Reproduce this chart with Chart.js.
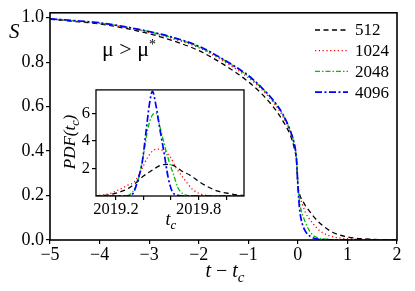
<!DOCTYPE html>
<html>
<head>
<meta charset="utf-8">
<script src="https://cdn.jsdelivr.net/npm/chart.js@4"></script>
<style>
body { margin: 0; background: #fff; font-family: "Liberation Serif", serif; }
#wrap { position: relative; width: 415px; height: 291px; }
#main { position: absolute; left: 0; top: 0; }
#inset { position: absolute; left: 55px; top: 78px; }
</style>
</head>
<body>
<div id="wrap">
  <canvas id="main" width="415" height="291"></canvas>
  <canvas id="inset" width="200" height="160"></canvas>
</div>
<script>
// main panel: S versus t - tc
const sizes = ["512", "1024", "2048", "4096"];
const tMain = [-5, -4.5, -4, -3.5, -3, -2.5, -2, -1.5, -1, -0.75, -0.5, -0.3, -0.15, -0.08, -0.03, 0, 0.03, 0.06, 0.1, 0.15, 0.2, 0.3, 0.4, 0.5, 0.7, 1, 1.5, 2];
const s512  = [0.993, 0.983, 0.972, 0.953, 0.928, 0.895, 0.852, 0.79, 0.712, 0.662, 0.6, 0.535, 0.47, 0.42, 0.36, 0.25, 0.21, 0.19, 0.175, 0.155, 0.14, 0.11, 0.085, 0.065, 0.035, 0.014, 0.003, 0.001];
const s1024 = [0.994, 0.985, 0.975, 0.957, 0.934, 0.904, 0.865, 0.804, 0.73, 0.682, 0.62, 0.555, 0.485, 0.435, 0.37, 0.25, 0.2, 0.18, 0.155, 0.125, 0.105, 0.075, 0.05, 0.033, 0.015, 0.006, 0.001, 0];
const s2048 = [0.995, 0.986, 0.976, 0.959, 0.937, 0.908, 0.869, 0.81, 0.737, 0.688, 0.627, 0.562, 0.49, 0.44, 0.37, 0.25, 0.18, 0.14, 0.11, 0.08, 0.055, 0.022, 0.01, 0.005, 0.002, 0.001, 0, 0];
const s4096 = [0.995, 0.987, 0.977, 0.96, 0.938, 0.91, 0.872, 0.812, 0.74, 0.69, 0.63, 0.565, 0.49, 0.44, 0.37, 0.25, 0.15, 0.1, 0.065, 0.04, 0.025, 0.01, 0.004, 0.002, 0.001, 0, 0, 0];
const xTicks = [-5, -4, -3, -2, -1, 0, 1, 2];
const yTicks = [0, 0.2, 0.4, 0.6, 0.8, 1.0];

// inset: PDF of tc
const tc512  = [2019.05, 2019.12, 2019.18, 2019.23, 2019.29, 2019.35, 2019.40, 2019.46, 2019.53, 2019.58, 2019.62, 2019.68, 2019.74, 2019.81, 2019.87, 2019.94, 2020.01, 2020.09, 2020.13];
const pdf512 = [0, 0.05, 0.15, 0.3, 0.55, 1.0, 1.45, 1.85, 2.25, 2.3, 2.2, 1.8, 1.5, 1.0, 0.65, 0.35, 0.2, 0.07, 0.03];
const tc1024  = [2019.05, 2019.15, 2019.22, 2019.28, 2019.34, 2019.39, 2019.43, 2019.47, 2019.51, 2019.55, 2019.59, 2019.64, 2019.69, 2019.76, 2019.83, 2019.9, 2020.0, 2020.13];
const pdf1024 = [0.02, 0.15, 0.45, 0.75, 1.1, 2.0, 2.8, 3.3, 3.4, 3.25, 2.9, 2.0, 1.3, 0.45, 0.1, 0.02, 0, 0];
const tc2048  = [2019.05, 2019.25, 2019.30, 2019.34, 2019.37, 2019.40, 2019.43, 2019.46, 2019.49, 2019.52, 2019.55, 2019.58, 2019.62, 2019.65, 2019.69, 2019.75, 2020.13];
const pdf2048 = [0, 0, 0.1, 0.6, 1.5, 3.0, 4.8, 5.8, 6.0, 5.0, 3.8, 2.7, 1.5, 0.6, 0.15, 0, 0];
const tc4096  = [2019.05, 2019.30, 2019.33, 2019.36, 2019.39, 2019.42, 2019.445, 2019.465, 2019.49, 2019.52, 2019.55, 2019.58, 2019.61, 2019.65, 2019.7, 2020.13];
const pdf4096 = [0, 0, 0.3, 1.2, 2.4, 4.8, 6.8, 7.6, 6.6, 4.8, 3.1, 1.3, 0.3, 0.05, 0, 0];
const inTicksX = [2019.2, 2019.4, 2019.6, 2019.8, 2020.0];
const inLabelsX = [2019.2, 2019.8];
const inTicksY = [2, 4, 6];

const colors = ["#000000", "#ff0000", "#00c000", "#0000ff"];
const dashes = [[5, 3.5], [1.2, 2.6], [5, 2, 1.5, 2], [7, 2.5, 2, 2.5]];
const widths = [1.3, 1.3, 1.3, 1.7];
const serif = "Times New Roman, Liberation Serif, DejaVu Serif, serif";

function pts(xs, ys) {
    return xs.map((x, i) => ({ x: x, y: ys[i] }));
}

function makeSets(list) {
    return list.map((pairs, i) => ({
        label: sizes[i],
        data: pts(pairs[0], pairs[1]),
        borderColor: colors[i],
        borderWidth: widths[i],
        borderDash: dashes[i],
        pointRadius: 0,
        fill: false,
        cubicInterpolationMode: "monotone",
        order: 4 - i
    }));
}

// draws text pieces in a row, pieces: [text, font, dy]
function drawRow(ctx, pieces, x, y, align) {
    let total = 0;
    pieces.forEach(p => { ctx.font = p[1]; total += ctx.measureText(p[0]).width; });
    let cx = align === "center" ? x - total / 2 : x;
    ctx.textAlign = "left";
    ctx.textBaseline = "alphabetic";
    pieces.forEach(p => {
        ctx.font = p[1];
        ctx.fillText(p[0], cx, y + (p[2] || 0));
        cx += ctx.measureText(p[0]).width;
    });
}

const boxPlugin = {
    id: "box",
    beforeDraw(chart) {
        const a = chart.chartArea, ctx = chart.ctx;
        ctx.save();
        ctx.fillStyle = "#fff";
        ctx.fillRect(a.left, a.top, a.right - a.left, a.bottom - a.top);
        ctx.restore();
    },
    afterDraw(chart) {
        const a = chart.chartArea, ctx = chart.ctx;
        ctx.save();
        ctx.strokeStyle = "#000";
        ctx.lineWidth = chart.canvas.id === "main" ? 1.6 : 1.3;
        ctx.strokeRect(a.left, a.top, a.right - a.left, a.bottom - a.top);
        ctx.restore();
    }
};

const mainText = {
    id: "mainText",
    afterDraw(chart) {
        const ctx = chart.ctx;
        ctx.save();
        ctx.fillStyle = "#000";
        drawRow(ctx, [["S", "italic 21px " + serif]], 9, 38, "left");
        drawRow(ctx, [["μ > μ", "22px " + serif], ["*", "14px " + serif, -7]], 102, 56, "left");
        drawRow(ctx, [["t", "italic 20px " + serif], [" − ", "20px " + serif], ["t", "italic 20px " + serif], ["c", "italic 15px " + serif, 5]], 225, 277, "center");
        // legend
        chart.data.datasets.forEach((ds, i) => {
            const y = 30 + i * 20.7;
            ctx.strokeStyle = ds.borderColor;
            ctx.lineWidth = ds.borderWidth;
            ctx.setLineDash(ds.borderDash);
            ctx.beginPath();
            ctx.moveTo(315, y);
            ctx.lineTo(348, y);
            ctx.stroke();
            ctx.setLineDash([]);
            ctx.font = "17px " + serif;
            ctx.textBaseline = "middle";
            ctx.fillText(ds.label, 355, y + 1);
        });
        ctx.restore();
    }
};

const insetText = {
    id: "insetText",
    afterDraw(chart) {
        const ctx = chart.ctx;
        ctx.save();
        ctx.fillStyle = "#000";
        ctx.translate(20, 64);
        ctx.rotate(-Math.PI / 2);
        drawRow(ctx, [["PDF(", "italic 17px " + serif], ["t", "italic 17px " + serif], ["c", "italic 12px " + serif, 4], [")", "italic 17px " + serif]], 0, 0, "center");
        ctx.restore();
        ctx.save();
        ctx.fillStyle = "#000";
        drawRow(ctx, [["t", "italic 18px " + serif], ["c", "italic 13px " + serif, 4]], 116, 147, "center");
        ctx.restore();
    }
};

function axisStyle(size) {
    return {
        grid: { drawOnChartArea: false, drawTicks: true, tickLength: 4, color: "#000", lineWidth: 1.2 },
        border: { display: false },
        ticks: { color: "#000", font: { family: serif, size: size }, maxRotation: 0, autoSkip: false, padding: 2 }
    };
}

const mx = axisStyle(18), my = axisStyle(18);
mx.type = "linear"; mx.min = -5; mx.max = 2;
mx.afterBuildTicks = s => { s.ticks = xTicks.map(v => ({ value: v })); };
mx.ticks.callback = v => String(v).replace("-", "−");
mx.ticks.padding = 0;
mx.afterFit = s => { s.height = 51; };
my.min = 0; my.max = 1.022;
my.afterBuildTicks = s => { s.ticks = yTicks.map(v => ({ value: v })); };
my.ticks.callback = v => v.toFixed(1);
my.afterFit = s => { s.width = 50; };

new Chart(document.getElementById("main"), {
    type: "line",
    data: { datasets: makeSets([[tMain, s512], [tMain, s1024], [tMain, s2048], [tMain, s4096]]) },
    options: {
        responsive: false,
        animation: false,
        layout: { padding: { top: 9, right: 18, left: 0, bottom: 0 } },
        plugins: { legend: { display: false }, tooltip: { enabled: false } },
        scales: { x: mx, y: my }
    },
    plugins: [boxPlugin, mainText]
});

const ix = axisStyle(16.5), iy = axisStyle(16.5);
ix.type = "linear"; ix.min = 2019.055; ix.max = 2020.13;
ix.afterBuildTicks = s => { s.ticks = inTicksX.map(v => ({ value: v })); };
ix.ticks.callback = v => inLabelsX.some(l => Math.abs(l - v) < 1e-6) ? v.toFixed(1) : "";
ix.afterFit = s => { s.height = 42; };
ix.ticks.padding = 0;
iy.min = 0; iy.max = 7.7;
iy.afterBuildTicks = s => { s.ticks = inTicksY.map(v => ({ value: v })); };
iy.afterFit = s => { s.width = 41; };

new Chart(document.getElementById("inset"), {
    type: "line",
    data: { datasets: makeSets([[tc512, pdf512], [tc1024, pdf1024], [tc2048, pdf2048], [tc4096, pdf4096]]) },
    options: {
        responsive: false,
        animation: false,
        layout: { padding: { top: 8, right: 11, left: 0, bottom: 0 } },
        plugins: { legend: { display: false }, tooltip: { enabled: false } },
        scales: { x: ix, y: iy }
    },
    plugins: [boxPlugin, insetText]
});
</script>
</body>
</html>
